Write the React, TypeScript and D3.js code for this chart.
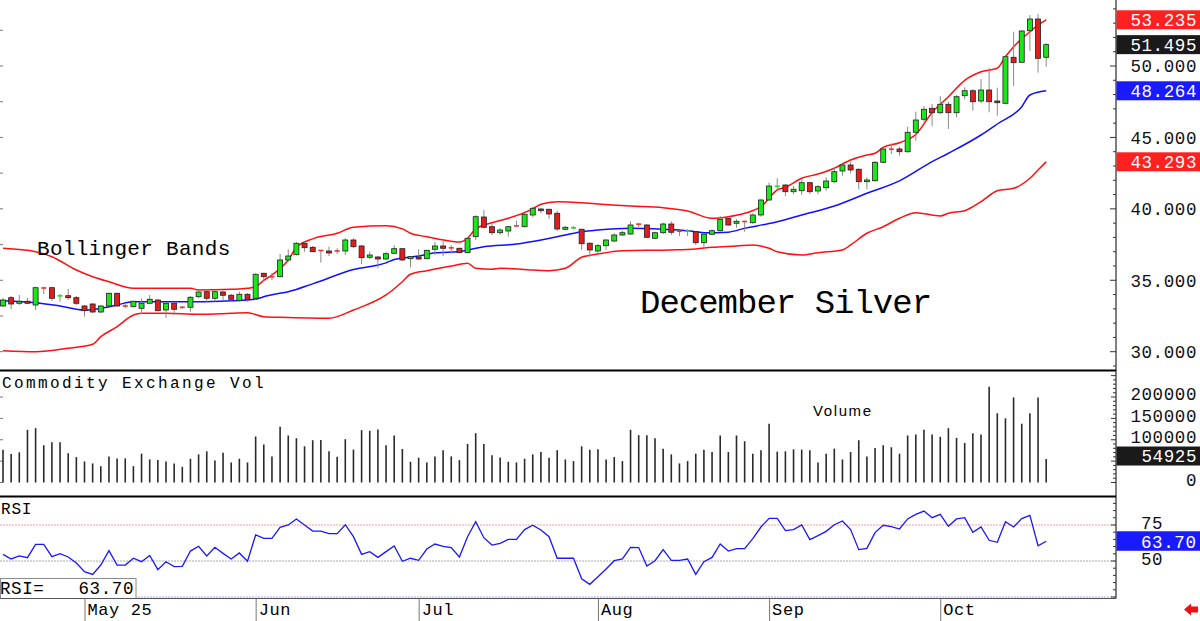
import * as d3 from "d3";

// daily OHLC for the December silver contract, mid-April to Oct 20
const opens = [
  33.2, 33.78, 33.39, 33.53, 33.27, 34.48, 34.48, 33.9, 33.92, 33.78,
  33.2, 33.34, 32.78, 33.2, 34.09, 33.22, 33.15, 33.04, 33.39, 33.62,
  32.92, 33.39, 33.13, 33.11, 33.85, 34.2, 33.74, 34.18, 33.95, 33.57,
  34.02, 33.74, 35.49, 35.25, 35.25, 36.42, 36.79, 37.59, 37.31, 37.1,
  37.05, 37.07, 37.05, 37.82, 37.4, 36.61, 36.63, 36.49, 36.89, 37.21,
  36.51, 36.63, 36.51, 37.17, 37.4, 37.28, 37.24, 36.93, 38.05, 39.43,
  38.75, 38.33, 38.45, 38.82, 38.75, 39.57, 39.99, 39.97, 39.69, 38.57,
  38.66, 38.57, 37.59, 37.05, 37.42, 37.75, 38.17, 38.24, 38.94, 38.87,
  37.94, 38.33, 38.94, 38.45, 38.43, 38.4, 37.63, 38.22, 38.47, 39.34,
  38.99, 39.13, 39.03, 39.57, 40.62, 41.58, 41.67, 41.2, 41.27, 41.83,
  41.25, 41.48, 41.9, 42.65, 43.07, 42.77, 41.9, 41.97, 43.26, 44.19,
  44.19, 44.0, 45.36, 46.27, 47.04, 46.73, 47.32, 46.73, 47.92, 48.27,
  47.55, 48.32, 47.55, 47.39, 50.61, 50.26, 52.47, 53.29, 50.61,
];
const highs = [
  33.76, 33.9, 33.97, 33.76, 34.55, 34.55, 34.55, 34.04, 34.39, 33.9,
  33.27, 33.39, 33.27, 34.13, 34.13, 33.39, 33.57, 33.74, 33.97, 33.67,
  33.43, 33.43, 33.2, 33.9, 34.37, 34.37, 34.27, 34.27, 34.04, 34.2,
  34.09, 35.49, 35.53, 35.49, 36.84, 37.17, 37.7, 37.7, 37.4, 37.12,
  37.35, 37.24, 37.94, 37.94, 37.47, 37.0, 36.7, 36.98, 37.45, 37.26,
  36.7, 37.17, 37.12, 37.68, 37.73, 37.45, 37.28, 38.01, 39.55, 39.92,
  39.03, 38.64, 38.82, 39.17, 39.69, 40.15, 40.08, 40.01, 39.87, 38.8,
  38.8, 38.61, 37.66, 37.54, 37.87, 38.29, 38.45, 39.13, 39.03, 38.92,
  38.4, 39.03, 39.13, 38.45, 38.57, 38.45, 38.33, 38.57, 39.5, 39.38,
  39.27, 39.17, 39.69, 40.67, 41.83, 42.14, 41.72, 41.6, 42.02, 41.9,
  41.67, 42.21, 42.95, 43.23, 43.3, 42.84, 42.21, 43.35, 44.24, 44.59,
  44.35, 45.75, 46.8, 47.2, 47.34, 47.9, 47.5, 47.97, 48.51, 48.37,
  49.09, 49.84, 48.48, 50.77, 52.4, 52.52, 53.57, 53.64, 51.6,
];
const lows = [
  33.13, 32.97, 33.27, 33.34, 32.92, 34.04, 33.57, 33.5, 33.62, 33.27,
  32.45, 32.69, 32.69, 33.15, 33.15, 33.04, 33.11, 32.64, 33.34, 32.83,
  32.36, 32.57, 33.01, 32.8, 33.74, 33.43, 33.5, 33.62, 33.57, 33.5,
  33.5, 33.62, 34.95, 35.02, 35.21, 36.3, 36.75, 37.0, 36.98, 36.23,
  36.7, 36.84, 36.77, 37.24, 36.14, 36.49, 35.84, 36.42, 36.84, 36.35,
  35.91, 36.42, 36.47, 36.77, 36.7, 36.89, 36.89, 36.89, 37.82, 38.64,
  38.17, 38.17, 38.05, 38.75, 38.71, 39.41, 39.69, 39.31, 38.45, 38.52,
  38.57, 37.14, 36.61, 36.84, 37.12, 37.66, 38.1, 38.17, 38.71, 37.96,
  37.87, 38.24, 38.17, 38.1, 38.1, 37.47, 37.28, 38.15, 38.4, 38.82,
  38.68, 38.4, 38.96, 39.45, 40.57, 41.27, 40.9, 41.02, 40.97, 41.04,
  41.02, 41.27, 41.79, 42.32, 42.49, 41.37, 41.37, 41.9, 43.19, 43.84,
  43.72, 43.93, 44.77, 46.1, 45.8, 46.64, 45.59, 46.41, 47.67, 46.87,
  47.39, 46.76, 46.52, 47.32, 48.6, 50.23, 51.05, 49.53, 49.95,
];
const closes = [
  33.62, 33.34, 33.53, 33.39, 34.48, 34.44, 33.74, 33.92, 33.78, 33.39,
  32.87, 32.78, 33.2, 34.09, 33.2, 33.18, 33.53, 33.39, 33.67, 32.87,
  33.39, 32.97, 33.08, 33.81, 34.18, 33.74, 34.2, 33.95, 33.67, 34.02,
  33.67, 35.42, 35.25, 35.23, 36.42, 36.7, 37.59, 37.28, 37.0, 37.07,
  36.91, 37.04, 37.82, 37.35, 36.58, 36.77, 36.49, 36.86, 37.21, 36.42,
  36.65, 36.49, 37.1, 37.4, 37.24, 37.26, 36.93, 37.94, 39.45, 38.71,
  38.33, 38.52, 38.75, 38.8, 39.62, 40.04, 39.87, 39.64, 38.59, 38.71,
  38.68, 37.56, 37.12, 37.42, 37.82, 38.17, 38.33, 38.87, 38.92, 38.01,
  38.33, 38.94, 38.36, 38.43, 38.45, 37.63, 38.24, 38.47, 39.27, 38.87,
  39.13, 39.1, 39.57, 40.62, 41.6, 41.6, 41.2, 41.37, 41.83, 41.2,
  41.55, 41.95, 42.6, 43.07, 42.72, 41.9, 42.02, 43.26, 44.19, 44.17,
  44.0, 45.36, 46.22, 46.97, 46.73, 47.32, 46.73, 47.85, 48.27, 47.5,
  48.32, 47.5, 47.43, 50.65, 50.23, 52.45, 53.29, 50.54, 51.495,
];

// Commodity Exchange daily volume (contracts)
const volumes = [
  76900, 66600, 70600, 123300, 127200, 87100, 94200, 94200, 68200, 59500,
  49300, 44600, 38300, 61100, 56400, 56400, 38300, 67400, 54000, 52400,
  49300, 44600, 36700, 55600, 65800, 72900, 51700, 69800, 46900, 55600,
  46900, 107600, 88700, 61100, 130400, 110000, 103600, 84700, 98900, 99700,
  72900, 60300, 101300, 76900, 122500, 120900, 124100, 87100, 110000, 78400,
  48500, 58000, 46900, 61100, 75300, 61100, 52400, 90200, 115400, 90200,
  63500, 58700, 48500, 46900, 55600, 65800, 71300, 58000, 75300, 54000,
  50100, 84700, 76900, 77600, 54000, 59500, 50100, 123300, 110700, 110700,
  103600, 79200, 65800, 44600, 50100, 67400, 76900, 71300, 110000, 71300,
  110000, 96500, 67400, 75300, 137500, 72100, 72900, 77600, 76900, 75300,
  46900, 67400, 79200, 54000, 71300, 98900, 61100, 80800, 87100, 82400,
  67400, 110000, 112300, 123300, 112300, 106800, 127200, 104400, 92600, 115400,
  112300, 224100, 161900, 150100, 198900, 137500, 161900, 198900, 54925,
];

// 14-day RSI
const rsi = [
  54.6, 51.4, 53.5, 52.3, 61.6, 61.6, 53.0, 55.1, 52.8, 48.6,
  42.6, 40.7, 47.2, 57.2, 47.2, 47.2, 51.9, 49.5, 53.9, 44.0,
  49.5, 46.1, 46.3, 56.9, 60.2, 53.5, 59.5, 55.3, 51.4, 55.6,
  49.8, 68.1, 65.7, 65.7, 73.4, 75.0, 79.2, 75.0, 70.8, 70.8,
  69.0, 69.0, 75.2, 66.9, 54.6, 56.5, 52.5, 56.5, 60.4, 49.8,
  51.9, 50.5, 58.3, 61.8, 60.2, 59.3, 52.8, 66.9, 77.3, 66.2,
  61.1, 62.3, 65.0, 65.0, 71.8, 74.8, 71.5, 66.9, 51.9, 51.9,
  51.9, 37.6, 33.8, 39.0, 44.4, 50.2, 51.4, 59.5, 59.3, 46.5,
  50.2, 57.9, 50.5, 50.5, 51.4, 40.7, 49.5, 52.5, 61.8, 56.9,
  58.6, 58.6, 65.5, 73.6, 79.6, 79.6, 71.1, 71.8, 75.0, 64.8,
  67.6, 70.6, 75.2, 77.8, 71.8, 57.9, 58.8, 69.7, 74.8, 73.8,
  72.2, 79.2, 82.4, 84.7, 80.1, 82.4, 74.1, 79.2, 80.1, 69.9,
  73.6, 64.4, 63.0, 77.3, 73.6, 79.4, 81.7, 60.6, 63.7,
];

// Bollinger bands as [bar index, price]
const upperBand: [number, number][] = [
  [0, 37.24], [4, 37.0], [6, 36.65], [9, 35.72], [11, 35.25], [13, 34.9], [16, 34.44],
  [23, 34.44], [24, 34.32], [28, 34.37], [30, 34.44], [31, 34.55], [32, 35.0], [33, 35.37],
  [35, 36.42], [36, 37.3], [38, 37.9], [41, 38.29], [43, 38.72], [47, 38.82], [49, 38.6],
  [50, 38.29], [52, 38.05], [55, 37.73], [56, 37.68], [57, 37.94], [58, 38.6], [60, 39.03],
  [62, 39.34], [65, 40.0], [66, 40.32], [68, 40.5], [73, 40.34], [77, 40.2], [81, 40.08],
  [84, 39.85], [87, 39.34], [89, 39.45], [91, 39.69], [93, 40.15], [95, 41.32], [96, 41.51],
  [98, 42.14], [100, 42.44], [102, 42.84], [104, 43.42], [106, 43.77], [107, 43.89],
  [108, 44.3], [110, 44.63], [112, 45.2], [114, 46.75], [116, 47.85], [118, 49.0],
  [120, 49.6], [122, 49.84], [123, 50.65], [124, 51.35], [126, 52.4], [127, 52.87], [128, 53.235],
];
const midBand: [number, number][] = [
  [0, 33.57], [4, 33.43], [7, 33.2], [10, 32.92], [12, 33.04], [14, 33.27], [16, 33.5],
  [20, 33.5], [24, 33.5], [28, 33.57], [31, 33.67], [32, 33.85], [34, 34.09], [35, 34.2],
  [38, 34.75], [43, 35.75], [47, 36.22], [48, 36.45], [51, 36.7], [53, 36.92], [56, 37.02],
  [57, 37.12], [59, 37.35], [63, 37.54], [65, 37.72], [69, 38.17], [71, 38.4], [73, 38.52],
  [77, 38.64], [81, 38.57], [84, 38.47], [86, 38.33], [89, 38.37], [91, 38.64], [94, 38.97],
  [95, 39.1], [98, 39.57], [102, 40.2], [106, 41.09], [110, 41.96], [114, 43.3], [116, 43.89],
  [120, 45.17], [122, 45.94], [125, 47.15], [126, 47.97], [128, 48.264],
];
const lowerBand: [number, number][] = [
  [0, 30.07], [4, 30.0], [8, 30.24], [11, 30.52], [12, 31.05], [14, 31.75], [16, 32.57],
  [17, 32.69], [20, 32.69], [24, 32.62], [28, 32.69], [30, 32.73], [32, 32.45], [34, 32.41],
  [40, 32.34], [43, 32.92], [47, 33.97], [49, 34.9], [50, 35.42], [52, 35.67], [55, 36.0],
  [57, 36.19], [58, 35.84], [60, 35.77], [61, 35.84], [65, 35.72], [67, 35.67], [69, 35.84],
  [71, 36.61], [73, 36.84], [76, 37.07], [82, 37.12], [85, 37.19], [87, 37.31], [90, 37.4],
  [92, 37.47], [94, 37.24], [95, 37.0], [98, 36.77], [100, 36.93], [103, 37.12], [104, 37.47],
  [106, 38.29], [108, 38.75], [110, 39.34], [112, 39.73], [115, 39.5], [116, 39.69],
  [118, 39.87], [120, 40.5], [122, 41.27], [124, 41.44], [126, 42.14], [127, 42.72], [128, 43.293],
];

const priceTicks = [30, 35, 40, 45, 50];
const volumeTicks = [0, 50000, 100000, 150000, 200000];
const rsiTicks = [75, 50];
const monthBars = [10, 31, 51, 73, 94, 115];
const monthNames = ["May 25", "Jun", "Jul", "Aug", "Sep", "Oct"];

const lastUpper = 53.235;
const lastClose = 51.495;
const lastMid = 48.264;
const lastLower = 43.293;

const MONO = "Liberation Mono, DejaVu Sans Mono, monospace";
const AXIS_X = 1116;

export default function App() {
  const n = closes.length;
  const x = d3.scaleLinear().domain([0, n - 1]).range([3, 1046.2]);
  const yP = d3.scaleLinear().domain([30, 50]).range([351.7, 66]);
  const yV = d3.scaleLinear().domain([0, 200000]).range([482.5, 397]);
  const yR = d3.scaleLinear().domain([50, 75]).range([561, 525]);

  const band = d3
    .line<[number, number]>()
    .x((d) => x(d[0]))
    .y((d) => yP(d[1]))
    .curve(d3.curveMonotoneX);
  const rsiLine = d3
    .line<number>()
    .x((_, i) => x(i))
    .y((d) => yR(d));

  const f3 = d3.format(".3f");
  const f2 = d3.format(".2f");

  const bodyW = 5;

  return (
    <div style={{ position: "absolute", left: 0, top: 0 }}>
      <svg width={1200} height={621} style={{ display: "block", background: "#fff" }}>
        {/* price panel */}
        <g>
          {d3.range(0, 55, 2.5).filter((v) => yP(v) > 2 && yP(v) < 368).map((v) => (
            <line key={"lt" + v} x1={0} x2={3} y1={yP(v)} y2={yP(v)} stroke="#777" />
          ))}
          <path d={band(upperBand) || ""} fill="none" stroke="#ff1010" strokeWidth={1.5} />
          <path d={band(lowerBand) || ""} fill="none" stroke="#ff1010" strokeWidth={1.5} />
          <path d={band(midBand) || ""} fill="none" stroke="#1010ff" strokeWidth={1.5} />
          {closes.map((c, i) => {
            const o = opens[i];
            const up = c >= o;
            const cx = x(i);
            const top = yP(Math.max(o, c));
            const bot = yP(Math.min(o, c));
            const doji = bot - top < 1.6;
            return (
              <g key={"c" + i}>
                <line x1={cx} x2={cx} y1={yP(highs[i])} y2={yP(lows[i])} stroke="#8a8a8a" strokeWidth={1} />
                {doji ? (
                  <rect x={cx - bodyW / 2} y={(top + bot) / 2 - 0.8} width={bodyW} height={1.6}
                    fill={up ? "#22dd22" : "#ee3333"} />
                ) : (
                  <rect x={cx - bodyW / 2} y={top} width={bodyW} height={bot - top}
                    fill={up ? "#18e818" : "#e41c1c"} stroke="#202020" strokeWidth={0.8} />
                )}
              </g>
            );
          })}
          <text x={37} y={255} fontFamily={MONO} fontSize={21} letterSpacing={0.3} fill="#000">
            Bollinger Bands
          </text>
          <text x={640} y={313} fontFamily={MONO} fontSize={34} letterSpacing={-1} fill="#000">
            December Silver
          </text>
        </g>

        {/* volume panel */}
        <g>
          {volumeTicks.map((v) => (
            <line key={"vl" + v} x1={0} x2={3} y1={yV(v)} y2={yV(v)} stroke="#777" />
          ))}
          {volumes.map((v, i) => (
            <line key={"v" + i} x1={x(i)} x2={x(i)} y1={yV(0)} y2={yV(v)} stroke="#2a2a2a" strokeWidth={1.6} />
          ))}
          <text x={2} y={388} fontFamily={MONO} fontSize={16} letterSpacing={2.4} fill="#000">
            Commodity Exchange Vol
          </text>
          <text x={813} y={416} fontFamily="Liberation Sans, Arial, sans-serif" fontSize={15} letterSpacing={1.6} fill="#000">
            Volume
          </text>
        </g>

        {/* RSI panel */}
        <g>
          <line x1={0} x2={AXIS_X} y1={yR(75)} y2={yR(75)} stroke="#f4a0a0" strokeDasharray="2 1" />
          <line x1={0} x2={AXIS_X} y1={yR(50)} y2={yR(50)} stroke="#aaaaaa" strokeDasharray="2 1" />
          <line x1={0} x2={AXIS_X} y1={yR(25)} y2={yR(25)} stroke="#a8a8f4" strokeDasharray="2 1" />
          <path d={rsiLine(rsi) || ""} fill="none" stroke="#1818ff" strokeWidth={1.3} />
          <text x={1} y={514} fontFamily={MONO} fontSize={16} letterSpacing={0.8} fill="#000">
            RSI
          </text>
          <rect x={0.5} y={578.5} width={135.5} height={20} fill="#fff" stroke="#8c8c8c" />
          <text x={0} y={594} fontFamily={MONO} fontSize={17.5} letterSpacing={0.6} fill="#000">
            RSI=
          </text>
          <text x={134} y={594} textAnchor="end" fontFamily={MONO} fontSize={17.5} letterSpacing={0.6} fill="#000">
            {f2(rsi[n - 1])}
          </text>
        </g>

        {/* frame */}
        <line x1={0} x2={AXIS_X} y1={370.5} y2={370.5} stroke="#000" strokeWidth={2} />
        <line x1={0} x2={AXIS_X} y1={496.5} y2={496.5} stroke="#000" strokeWidth={2} />
        <line x1={0} x2={AXIS_X} y1={598.5} y2={598.5} stroke="#555" strokeWidth={1} />
        <line x1={AXIS_X} x2={AXIS_X} y1={0} y2={598.5} stroke="#000" strokeWidth={1} />

        {/* right axis ticks */}
        {d3.range(29, 55).map((v) => (
          <line key={"pt" + v} x1={v % 5 === 0 ? AXIS_X - 6 : AXIS_X - 3} x2={AXIS_X} y1={yP(v)} y2={yP(v)} stroke="#333" />
        ))}
        {d3.range(0, 260000, 10000).map((v) => (
          <line key={"vt" + v} x1={v % 50000 === 0 ? AXIS_X - 5 : AXIS_X - 3} x2={AXIS_X} y1={yV(v)} y2={yV(v)} stroke="#333" />
        ))}
        {d3.range(25, 95, 5).map((v) => (
          <line key={"rt" + v} x1={v % 25 === 0 ? AXIS_X - 5 : AXIS_X - 3} x2={AXIS_X} y1={yR(v)} y2={yR(v)} stroke="#333" />
        ))}

        {/* right axis labels */}
        {priceTicks.map((v) => (
          <text key={"pl" + v} x={1197} y={yP(v)} dy="0.36em" textAnchor="end" fontFamily={MONO}
            fontSize={17.5} letterSpacing={0.6} fill="#111">
            {f3(v)}
          </text>
        ))}
        {[
          { v: lastUpper, c: "#ff2020" },
          { v: lastClose, c: "#1a1a1a" },
          { v: lastMid, c: "#1a1aff" },
          { v: lastLower, c: "#ff2020" },
        ].map((b) => (
          <g key={"pb" + b.v}>
            <rect x={AXIS_X + 0.5} y={yP(b.v) - 9.5} width={1200 - AXIS_X} height={19} fill={b.c} />
            <text x={1197} y={yP(b.v)} dy="0.36em" textAnchor="end" fontFamily={MONO}
              fontSize={17.5} letterSpacing={0.6} fill="#fff">
              {f3(b.v)}
            </text>
          </g>
        ))}
        {volumeTicks.map((v) => (
          <text key={"vtl" + v} x={1197} y={yV(v) - 3} dy="0.36em" textAnchor="end" fontFamily={MONO}
            fontSize={17.5} letterSpacing={0.6} fill="#111">
            {v}
          </text>
        ))}
        <rect x={AXIS_X + 0.5} y={yV(volumes[n - 1]) - 3 - 9.5} width={1200 - AXIS_X} height={19} fill="#1a1a1a" />
        <text x={1197} y={yV(volumes[n - 1]) - 3} dy="0.36em" textAnchor="end" fontFamily={MONO}
          fontSize={17.5} letterSpacing={0.6} fill="#fff">
          {volumes[n - 1]}
        </text>
        {rsiTicks.map((v) => (
          <text key={"rl" + v} x={1141} y={yR(v) - 2} dy="0.36em" fontFamily={MONO}
            fontSize={17.5} letterSpacing={0.6} fill="#111">
            {v}
          </text>
        ))}
        <rect x={AXIS_X + 0.5} y={yR(rsi[n - 1]) - 10} width={1200 - AXIS_X} height={19.5} fill="#1a1aff" />
        <text x={1141} y={yR(rsi[n - 1])} dy="0.36em" fontFamily={MONO} fontSize={17.5}
          letterSpacing={0.6} fill="#fff">
          {f2(rsi[n - 1])}
        </text>

        {/* month axis */}
        {monthBars.map((b, i) => (
          <g key={"m" + b}>
            <line x1={x(b) + 0.5} x2={x(b) + 0.5} y1={598.5} y2={621} stroke="#777" />
            <text x={x(b) + 3} y={615} fontFamily={MONO} fontSize={17} letterSpacing={0.6} fill="#000">
              {monthNames[i]}
            </text>
          </g>
        ))}
        <path d="M1184,609.5 L1191,603.5 L1191,606.5 L1198,606.5 L1198,612.5 L1191,612.5 L1191,615.5 Z" fill="#ee1111" />
      </svg>
    </div>
  );
}
